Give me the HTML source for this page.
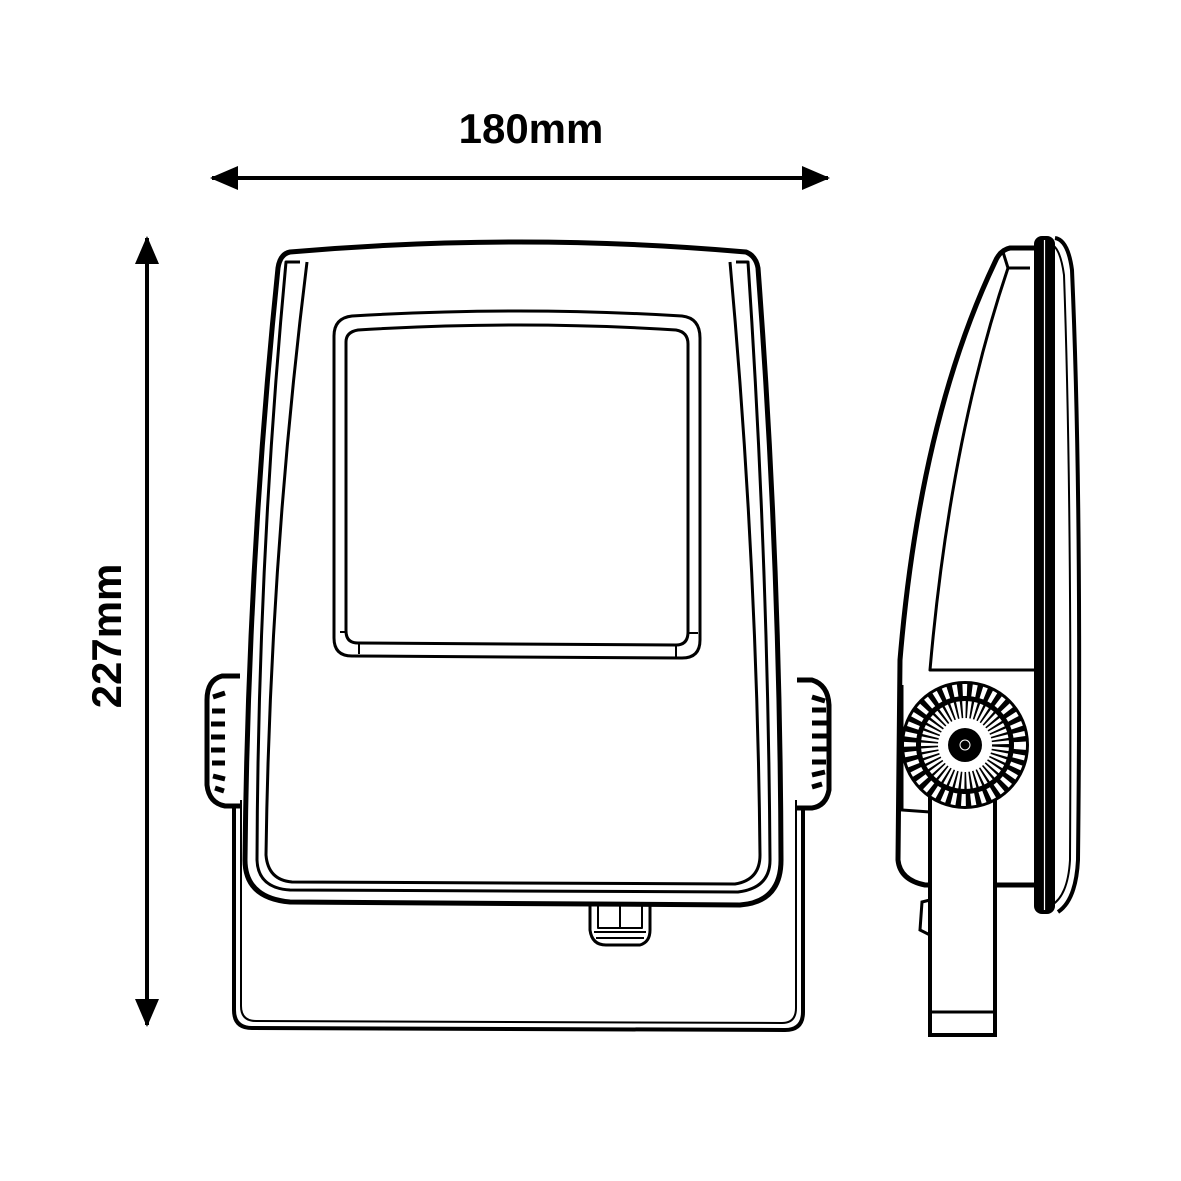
<!DOCTYPE html>
<html><head><style>html,body{margin:0;padding:0;background:#fff}svg{display:block}</style></head>
<body>
<svg width="1181" height="1181" viewBox="0 0 1181 1181" xmlns="http://www.w3.org/2000/svg">
<rect width="1181" height="1181" fill="#fff"/>
<!-- dimensions -->
<text x="531" y="143" font-family="Liberation Sans, sans-serif" font-weight="bold" font-size="42" text-anchor="middle">180mm</text>
<line x1="212" y1="178" x2="828" y2="178" stroke="#000" stroke-width="4"/>
<path d="M210,178 L238,166 L238,190 Z"/><path d="M830,178 L802,166 L802,190 Z"/>
<line x1="147" y1="238" x2="147" y2="1025" stroke="#000" stroke-width="4"/>
<path d="M147,236 L135,264 L159,264 Z"/><path d="M147,1027 L135,999 L159,999 Z"/>
<text transform="translate(121,636) rotate(-90)" font-family="Liberation Sans, sans-serif" font-weight="bold" font-size="42" text-anchor="middle">227mm</text>

<g fill="none" stroke="#000" stroke-linejoin="round">
<!-- bracket front -->
<path d="M234,795 L234,1010 Q234,1028 252,1028 L785,1030 Q803,1030 803,1012 L803,795" stroke-width="4"/>
<path d="M241,800 L241,1006 Q241,1021 256,1021 L782,1023 Q796,1023 796,1008 L796,800" stroke-width="2"/>
<!-- knobs -->
<path d="M240,676 L222,676 Q207,680 207,700 L207,785 Q209,803 225,806 L240,806" stroke-width="5" fill="#fff"/>
<path d="M797,680 L812,680 Q828,685 829,705 L829,790 Q826,806 812,808 L797,808" stroke-width="5" fill="#fff"/>
<g stroke-width="5">
<path d="M213,697 l12,-4 M212,711 l13,0 M211,724 l14,0 M211,737 l14,0 M211,750 l14,0 M212,763 l13,0 M213,776 l12,3 M215,788 l9,3"/>
<path d="M812,697 l13,4 M812,710 l14,0 M812,723 l15,0 M812,736 l15,0 M812,749 l15,0 M812,762 l14,0 M812,775 l13,-3 M812,787 l10,-3"/>
</g>
<!-- housing outer -->
<path d="M290,252 Q520,232 746,252 Q756,256 758,268 Q780,560 781,860 Q781,902 740,905 L290,902 Q245,898 245,860 Q248,560 278,268 Q280,254 290,252 Z" stroke-width="5" fill="#fff"/>
<path d="M300,262 L286,262 Q258,560 257,860 Q258,888 290,890 L738,892 Q770,888 770,860 Q768,560 748,262 L736,262" stroke-width="3"/>
<path d="M307,262 Q270,560 266,855 Q268,880 292,882 L735,884 Q760,880 760,855 Q757,560 730,262" stroke-width="3"/>
<!-- window -->
<path d="M352,316 Q520,306 682,316 Q700,318 700,338 L700,640 Q700,658 682,658 L352,656 Q334,656 334,638 L334,336 Q334,318 352,316 Z" stroke-width="3"/>
<path d="M358,330 Q520,320 676,330 Q688,332 688,344 L688,632 Q688,645 676,645 L358,643 Q346,643 346,631 L346,342 Q346,332 358,330 Z" stroke-width="3"/>
<path d="M340,632 L346,632 M359,643 L359,654 M676,645 L676,657 M688,633 L698,633" stroke-width="2"/>
<!-- gland -->
<path d="M590,905 L590,930 Q592,945 606,945 L640,945 Q650,942 650,930 L650,905" stroke-width="3"/>
<path d="M598,905 L598,928 L620,928 L620,905 M620,905 L620,928 L642,928 L642,905 M594,932 L646,932 M596,938 L644,938" stroke-width="2"/>
</g>

<!-- side view -->
<g fill="none" stroke="#000" stroke-linejoin="round">
<path d="M1035,248 L1010,248 Q1000,250 995,262 Q920,420 900,660 L898,860 Q900,880 925,885 L1035,885" stroke-width="5"/>
<path d="M1003,252 L1008,268 L1030,268" stroke-width="3"/>
<path d="M1008,268 Q950,440 930,670 L1035,670" stroke-width="3"/>
<!-- front lens -->
<path d="M1055,238 Q1068,240 1072,270 Q1082,500 1078,860 Q1076,900 1058,912" stroke-width="4"/>
<path d="M1050,244 Q1060,246 1064,275 Q1072,500 1070,860 Q1068,895 1052,905" stroke-width="2"/>
</g>
<rect x="1034" y="236" width="21" height="678" rx="8" fill="#000"/>
<line x1="1044.5" y1="240" x2="1044.5" y2="910" stroke="#fff" stroke-width="1.2"/>
<!-- bracket arm side -->
<g fill="none" stroke="#000">
<rect x="930" y="790" width="65" height="245" stroke-width="4" fill="#fff"/>
<line x1="930" y1="1012" x2="995" y2="1012" stroke-width="3"/>
<path d="M930,900 L922,902 L920,930 L930,935" stroke-width="3"/>
<path d="M902,685 L902,810 L930,812" stroke-width="3"/>
</g>
<!-- knob -->
<circle cx="965" cy="745" r="64" fill="#000"/>
<circle cx="965" cy="745" r="55" fill="none" stroke="#fff" stroke-width="12" stroke-dasharray="4.5 5"/>
<circle cx="965" cy="745" r="46" fill="#fff" stroke="#000" stroke-width="4"/>
<circle cx="965" cy="745" r="36" fill="none" stroke="#000" stroke-width="18" stroke-dasharray="2 3"/>
<circle cx="965" cy="745" r="26" fill="#fff"/>
<circle cx="965" cy="745" r="17" fill="#000"/>
<circle cx="965" cy="745" r="5" fill="none" stroke="#fff" stroke-width="1"/>
</svg>
</body></html>
